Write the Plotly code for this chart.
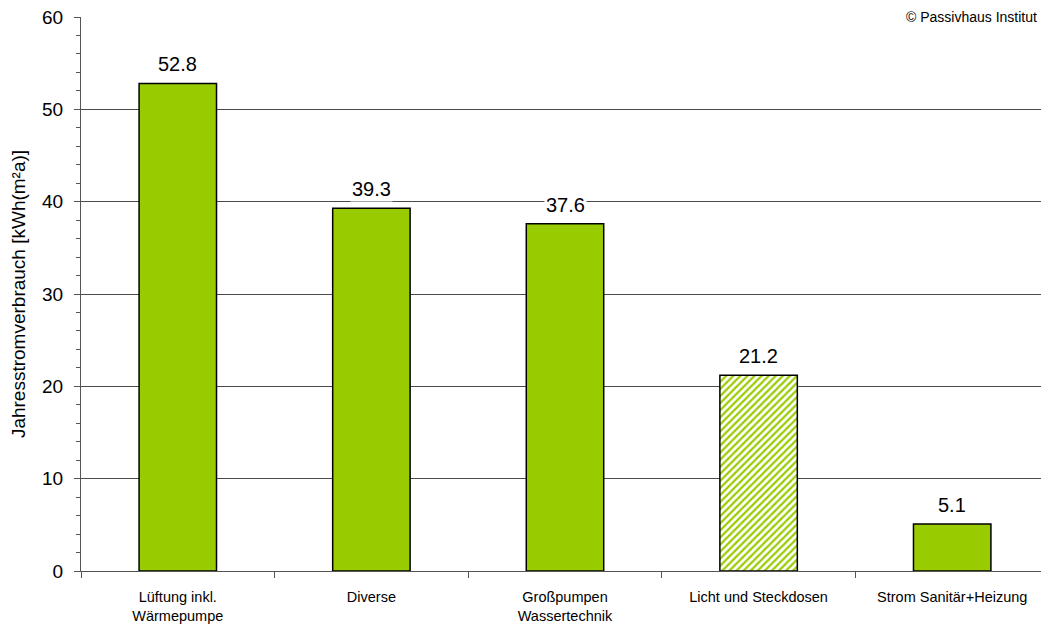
import plotly.graph_objects as go

categories = ["Lüftung inkl.<br>Wärmepumpe", "Diverse", "Großpumpen<br>Wassertechnik",
              "Licht und Steckdosen", "Strom Sanitär+Heizung"]
values = [52.8, 39.3, 37.6, 21.2, 5.1]
hatched = [False, False, False, True, False]
value_labels = ["52.8", "39.3", "37.6", "21.2", "5.1"]

GREEN = "#99CC00"
FONT = "Liberation Sans, Arial, sans-serif"

solid_vals = [None if h else v for v, h in zip(values, hatched)]
hatch_vals = [v if h else None for v, h in zip(values, hatched)]

fig = go.Figure()
fig.add_trace(go.Bar(
    x=categories, y=solid_vals, width=0.40,
    marker=dict(color=GREEN, line=dict(color="black", width=1.5)),
    hoverinfo="skip",
))
fig.add_trace(go.Bar(
    x=categories, y=hatch_vals, width=0.40,
    marker=dict(
        color="white",
        line=dict(color="black", width=1.5),
        pattern=dict(shape="/", fgcolor=GREEN, bgcolor="white", fgopacity=1,
                     size=5, solidity=0.45),
    ),
    hoverinfo="skip",
))

for c, v, t in zip(categories, values, value_labels):
    fig.add_annotation(x=c, y=v, text=t, showarrow=False, yanchor="bottom", yshift=6,
                       bgcolor="white", font=dict(family=FONT, size=20, color="black"))

fig.add_annotation(xref="paper", yref="paper", x=0.99, y=1.0, text="© Passivhaus Institut",
                   showarrow=False, xanchor="right", yanchor="middle", bgcolor="white",
                   font=dict(family=FONT, size=14, color="black"))

fig.update_layout(
    width=1041, height=620,
    margin=dict(l=73, r=0, t=9, b=57),
    paper_bgcolor="white", plot_bgcolor="white",
    showlegend=False,
    barmode="overlay",
    font=dict(family=FONT, color="black"),
)
fig.update_xaxes(
    showline=True, linecolor="#555", linewidth=1,
    ticks="outside", tickson="boundaries", ticklen=6, tickcolor="#555",
    tickfont=dict(family=FONT, size=14.5, color="black"),
    ticklabelstandoff=13,
    showgrid=False,
)
fig.update_yaxes(
    range=[0, 60], dtick=10,
    showline=True, linecolor="#555", linewidth=1,
    ticks="outside", ticklen=6, tickcolor="#555",
    minor=dict(dtick=2, ticks="outside", ticklen=4, tickcolor="#555", showgrid=False),
    showgrid=True, gridcolor="#4a4a4a", gridwidth=1,
    tickfont=dict(family=FONT, size=19, color="black"),
    ticklabelstandoff=7, ticklabeloverflow="allow",
    title=dict(text="Jahresstromverbrauch [kWh(m²a)]", font=dict(family=FONT, size=19, color="black"), standoff=12),
    zeroline=False,
)

fig.write_html("out.html")
